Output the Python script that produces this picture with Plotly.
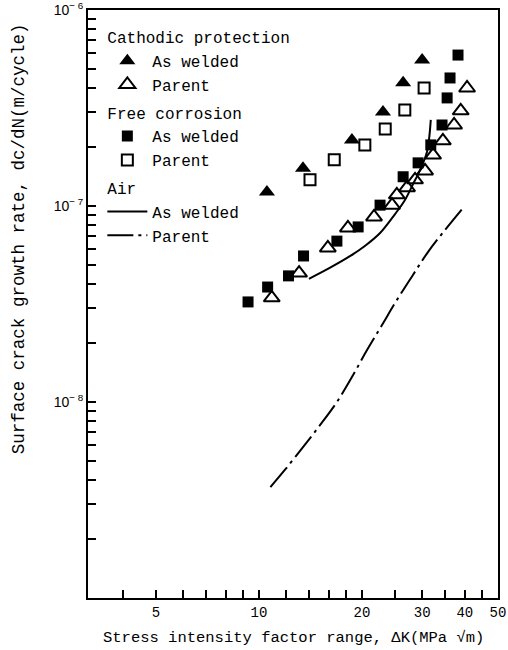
import plotly.graph_objects as go

# Cathodic protection, as welded (filled triangles)
cp_weld_x = [10.55, 13.45, 18.7, 23.05, 26.4, 30.0]
cp_weld_y = [1.18e-7, 1.56e-7, 2.17e-7, 3.02e-7, 4.25e-7, 5.56e-7]

# Cathodic protection, parent (open triangles)
cp_par_x = [10.9, 13.1, 15.9, 18.2, 21.7, 24.5, 25.3, 27.1, 28.6, 30.6, 32.3, 34.5, 37.2, 38.9, 40.6]
cp_par_y = [3.40e-8, 4.55e-8, 6.11e-8, 7.73e-8, 8.79e-8, 1.01e-7, 1.14e-7, 1.24e-7, 1.36e-7,
            1.51e-7, 1.82e-7, 2.15e-7, 2.59e-7, 3.06e-7, 4.0e-7]

# Free corrosion, as welded (filled squares)
fc_weld_x = [9.29, 10.6, 12.2, 13.5, 16.9, 19.5, 22.6, 26.4, 29.2, 31.8, 34.3, 35.5, 36.2, 38.2]
fc_weld_y = [3.24e-8, 3.86e-8, 4.40e-8, 5.56e-8, 6.62e-8, 7.82e-8, 1.01e-7, 1.41e-7, 1.66e-7,
             2.05e-7, 2.59e-7, 3.56e-7, 4.50e-7, 5.89e-7]

# Free corrosion, parent (open squares)
fc_par_x = [14.1, 16.6, 20.4, 23.4, 26.7, 30.4]
fc_par_y = [1.36e-7, 1.72e-7, 2.05e-7, 2.47e-7, 3.09e-7, 4.0e-7]

# Air, as welded (solid curve)
air_weld_x = [14.0, 16.1, 18.5, 20.4, 22.6, 25.0, 26.7, 28.2, 29.6, 31.0, 31.8]
air_weld_y = [4.25e-8, 4.83e-8, 5.56e-8, 6.25e-8, 7.28e-8, 9.1e-8, 1.07e-7, 1.29e-7, 1.53e-7,
              1.89e-7, 2.75e-7]

# Air, parent (dash-dot curve)
air_par_x = [10.8, 11.9, 13.45, 15.1, 16.9, 18.7, 20.7, 22.9, 25.3, 28.2, 31.2, 35.0, 39.5]
air_par_y = [3.68e-9, 4.5e-9, 5.89e-9, 7.64e-9, 1.0e-8, 1.34e-8, 1.84e-8, 2.47e-8, 3.31e-8,
             4.45e-8, 5.82e-8, 7.55e-8, 9.77e-8]

# axis ticks (labelled majors plus unlabelled minors)
x_major = [5, 10, 20, 30, 40, 50]
x_major_text = ["5", "10", "20", "30", "40", "50"]
x_minor = [4, 6, 7, 8, 9, 12, 14, 16, 18, 25, 35, 45]
y_major = [1e-8, 1e-7, 1e-6]
y_major_text = ["10<sup>\u2212 8</sup>", "10<sup>\u2212 7</sup>", "10<sup>\u2212 6</sup>"]
y_minor = [d * 10.0 ** e for e in (-9, -8, -7) for d in range(2, 10)]

x_title = "Stress intensity factor range, \u0394K(MPa \u221am)"
y_title = "Surface crack growth rate, dc/dN(m/cycle)"

MONO = "Liberation Mono"
fig = go.Figure()

fig.add_trace(go.Scatter(x=cp_weld_x, y=cp_weld_y, mode="markers", name="As welded",
                         legendgroup="cp", legendgrouptitle_text="Cathodic protection",
                         marker=dict(symbol="triangle-up", size=14, color="black")))
fig.add_trace(go.Scatter(x=cp_par_x, y=cp_par_y, mode="markers", name="Parent",
                         legendgroup="cp",
                         marker=dict(symbol="triangle-up-open", size=14, color="black",
                                     line=dict(width=2, color="black"))))
fig.add_trace(go.Scatter(x=fc_weld_x, y=fc_weld_y, mode="markers", name="As welded",
                         legendgroup="fc", legendgrouptitle_text="Free corrosion",
                         marker=dict(symbol="square", size=11, color="black")))
fig.add_trace(go.Scatter(x=fc_par_x, y=fc_par_y, mode="markers", name="Parent",
                         legendgroup="fc",
                         marker=dict(symbol="square-open", size=11, color="black",
                                     line=dict(width=2, color="black"))))
fig.add_trace(go.Scatter(x=air_weld_x, y=air_weld_y, mode="lines", name="As welded",
                         legendgroup="air", legendgrouptitle_text="Air",
                         line=dict(color="black", width=2, shape="spline")))
fig.add_trace(go.Scatter(x=air_par_x, y=air_par_y, mode="lines", name="Parent",
                         legendgroup="air",
                         line=dict(color="black", width=2, shape="spline",
                                   dash="26px,5px,3px,5px")))

fig.update_layout(
    width=508, height=650,
    margin=dict(l=88, r=10, t=10, b=52, autoexpand=False),
    paper_bgcolor="white", plot_bgcolor="white",
    font=dict(family=MONO, size=15, color="black"),
    showlegend=True,
    legend=dict(x=0.035, y=0.983, xanchor="left", yanchor="top",
                bgcolor="rgba(0,0,0,0)", font=dict(family=MONO, size=16, color="black"),
                grouptitlefont=dict(family=MONO, size=16, color="black"),
                tracegroupgap=4, itemwidth=40),
    annotations=[
        dict(text=x_title, xref="paper", yref="paper", x=0.5, y=-0.068,
             xanchor="center", yanchor="middle", showarrow=False,
             font=dict(family=MONO, size=15.5, color="black")),
        dict(text=y_title, xref="paper", yref="paper", x=-0.168, y=0.6105,
             xanchor="center", yanchor="middle", showarrow=False, textangle=-90,
             font=dict(family=MONO, size=17.5, color="black")),
    ],
)

fig.update_xaxes(type="log", range=[0.5, 1.699],
                 tickmode="array",
                 tickvals=x_major + x_minor,
                 ticktext=x_major_text + [""] * len(x_minor),
                 ticks="inside", ticklen=8, tickwidth=2, tickcolor="#000000",
                 showline=True, linecolor="black", linewidth=2, mirror=True,
                 showgrid=False, zeroline=False,
                 tickfont=dict(family=MONO, size=14))
fig.update_yaxes(type="log", range=[-9, -6],
                 tickmode="array",
                 tickvals=y_major + y_minor,
                 ticktext=y_major_text + [""] * len(y_minor),
                 ticks="inside", ticklen=8, tickwidth=2, tickcolor="#000000",
                 showline=True, linecolor="black", linewidth=2, mirror=True,
                 showgrid=False, zeroline=False,
                 tickfont=dict(family="Liberation Sans", size=14))

fig.write_html("out.html", config={"displayModeBar": False},
               post_script="document.body.style.margin='0';")
